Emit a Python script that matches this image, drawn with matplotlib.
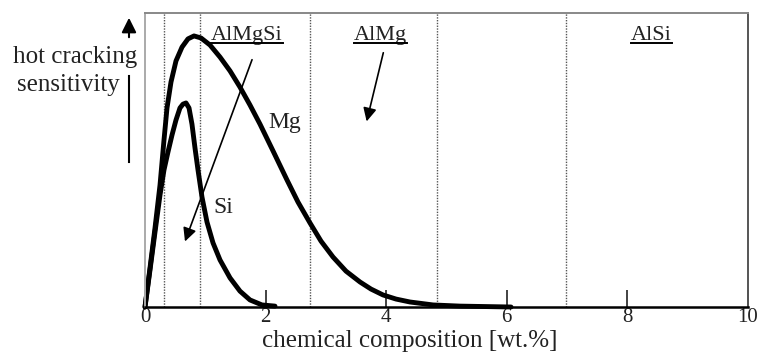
import matplotlib
matplotlib.use('Agg')
import matplotlib.pyplot as plt
from matplotlib.lines import Line2D

plt.rcParams['font.family'] = ['Liberation Serif', 'DejaVu Serif']

# curves (x in wt.%, y in relative sensitivity 0..1)
mg_x = [0, 0.083, 0.166, 0.249, 0.315, 0.365, 0.431, 0.514, 0.614, 0.713, 0.813, 0.929,
        1.078, 1.244, 1.410, 1.575, 1.741, 1.907, 2.123, 2.355, 2.537, 2.736, 2.919, 3.118,
        3.333, 3.566, 3.748, 3.947, 4.163, 4.395, 4.776, 5.224, 6.07]
mg_y = [0, 0.133, 0.269, 0.415, 0.568, 0.677, 0.765, 0.837, 0.884, 0.912, 0.922, 0.915,
        0.891, 0.850, 0.803, 0.748, 0.687, 0.622, 0.531, 0.432, 0.357, 0.286, 0.224, 0.170,
        0.122, 0.085, 0.061, 0.041, 0.027, 0.017, 0.007, 0.003, 0.0]

si_x = [0, 0.083, 0.166, 0.249, 0.315, 0.381, 0.448, 0.514, 0.580, 0.630, 0.680, 0.730,
        0.779, 0.829, 0.879, 0.945, 1.028, 1.128, 1.244, 1.410, 1.575, 1.741, 1.940, 2.156]
si_y = [0, 0.126, 0.255, 0.381, 0.466, 0.527, 0.585, 0.636, 0.677, 0.690, 0.694, 0.677,
        0.622, 0.541, 0.466, 0.374, 0.289, 0.218, 0.160, 0.099, 0.054, 0.024, 0.007, 0.003]

region_bounds = [0.32, 0.92, 2.74, 4.84, 6.98]
xticks = [0, 2, 4, 6, 8, 10]
alloy_labels = ['AlMgSi', 'AlMg', 'AlSi']
alloy_pos = [1.69, 3.90, 8.40]

W, H = 764, 353
fig = plt.figure(figsize=(W / 100, H / 100), dpi=100)
ax = fig.add_axes([145 / W, 1 - 307 / H, 603 / W, 294 / H])
ax.set_xlim(0, 10)
ax.set_ylim(0, 1)

for xb in region_bounds:
    ax.axvline(xb, color='#555555', lw=1.0, ls=(0, (1, 1)))

ax.plot(mg_x, mg_y, color='black', lw=3.5, solid_joinstyle='round', solid_capstyle='round', clip_on=False)
ax.plot(si_x, si_y, color='black', lw=3.5, solid_joinstyle='round', solid_capstyle='round', clip_on=False)

ax.set_xticks(xticks)
ax.set_yticks([])
ax.tick_params(axis='x', direction='in', length=12, width=1.2, labelsize=15, pad=1,
               colors='#222222')

ax.spines['left'].set_color('#aaaaaa')
ax.spines['top'].set_color('#888888')
ax.spines['right'].set_color('#555555')
ax.spines['bottom'].set_color('black')
for s in ['left', 'top', 'right']:
    ax.spines[s].set_linewidth(1.4)
ax.spines['bottom'].set_linewidth(1.8)

ax.text(2.32, 0.629, 'Mg', ha='center', va='center', fontsize=17, color='#222222')
ax.text(1.30, 0.340, 'Si', ha='center', va='center', fontsize=17, color='#222222')

texts = []
for lab, xp in zip(alloy_labels, alloy_pos):
    texts.append(ax.text(xp, 0.925, lab, ha='center', va='center', fontsize=16, color='#222222'))

ax.annotate('', xy=(0.647, 0.214), xytext=(1.791, 0.850),
            arrowprops=dict(arrowstyle='-|>', lw=1.2, color='black', mutation_scale=20))
ax.annotate('', xy=(3.665, 0.622), xytext=(3.963, 0.874),
            arrowprops=dict(arrowstyle='-|>', lw=1.2, color='black', mutation_scale=20))

# y label with arrow
fig.text(75 / W, 1 - 57 / H, 'hot cracking', ha='center', va='center', fontsize=18, color='#222222')
fig.text(68 / W, 1 - 85 / H, 'sensitivity', ha='center', va='center', fontsize=18, color='#222222')
fig.add_artist(Line2D([129 / W, 129 / W], [1 - 76 / H, 1 - 162 / H], color='black', lw=1.5))
ax.annotate('', xy=(129 / W, 1 - 15 / H), xytext=(129 / W, 1 - 40 / H),
            xycoords='figure fraction', textcoords='figure fraction',
            arrowprops=dict(arrowstyle='-|>', lw=1.5, color='black', mutation_scale=22))

fig.text(410 / W, 1 - 347 / H, 'chemical composition [wt.%]', ha='center', va='baseline',
         fontsize=18, color='#222222')

# underline the alloy names
fig.canvas.draw()
for t in texts:
    bb = t.get_window_extent().transformed(fig.transFigure.inverted())
    fig.add_artist(Line2D([bb.x0, bb.x1], [bb.y0 + 2 / H, bb.y0 + 2 / H], color='black', lw=1.4))

fig.savefig('out.png', dpi=100)
